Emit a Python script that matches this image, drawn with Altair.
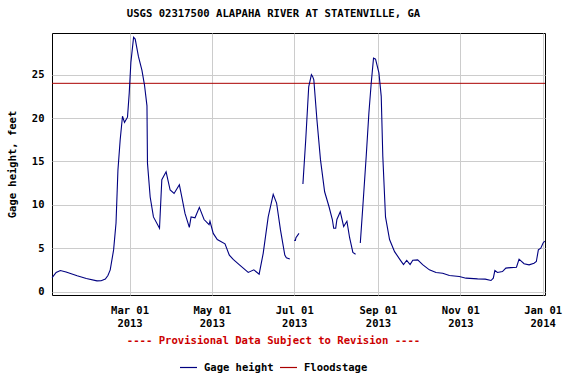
import altair as alt
import pandas as pd

FONT = "DejaVu Sans Mono"

TITLE = "USGS 02317500 ALAPAHA RIVER AT STATENVILLE, GA"
NOTE = "---- Provisional Data Subject to Revision ----"
Y_TITLE = "Gage height, feet"
SERIES = ["Gage height", "Floodstage"]
SERIES_COLORS = ["#000080", "#aa0000"]
FLOOD_STAGE_FT = [24]
Y_TICKS = [0, 5, 10, 15, 20, 25]

# --- gage height, continuous pieces (gaps between them are missing data) ---
seg1_dates = [
    "2013-01-02T16:00", "2013-01-05T16:00", "2013-01-08T18:00", "2013-01-13T00:00",
    "2013-01-21T05:00", "2013-01-28T00:00", "2013-02-04T22:00", "2013-02-08T00:00",
    "2013-02-11T02:00", "2013-02-13T00:00", "2013-02-14T17:00", "2013-02-17T05:00",
    "2013-02-19T00:00", "2013-02-20T10:00", "2013-02-22T02:00", "2013-02-23T19:00",
    "2013-02-25T07:00", "2013-02-27T12:00", "2013-02-28T19:00", "2013-03-02T00:00",
    "2013-03-04T00:00", "2013-03-05T05:00", "2013-03-07T14:00", "2013-03-10T05:00",
    "2013-03-12T02:00", "2013-03-13T22:00", "2013-03-14T07:00", "2013-03-16T07:00",
    "2013-03-18T17:00", "2013-03-23T05:00", "2013-03-24T22:00", "2013-03-28T02:00",
    "2013-03-31T02:00", "2013-04-03T00:00", "2013-04-06T22:00", "2013-04-08T17:00",
    "2013-04-11T02:00", "2013-04-14T07:00", "2013-04-15T14:00", "2013-04-18T12:00",
    "2013-04-21T17:00", "2013-04-25T05:00", "2013-04-28T22:00", "2013-04-29T14:00",
    "2013-05-02T00:00", "2013-05-05T00:00", "2013-05-10T17:00", "2013-05-13T22:00",
    "2013-05-16T19:00", "2013-05-21T05:00", "2013-05-27T22:00", "2013-06-01T02:00",
    "2013-06-05T00:00", "2013-06-08T00:00", "2013-06-11T17:00", "2013-06-15T10:00",
    "2013-06-17T22:00", "2013-06-20T19:00", "2013-06-24T00:00", "2013-06-25T04:00",
    "2013-06-27T17:00",
]
seg1_ft = [
    1.60, 2.20, 2.42, 2.25,
    1.81, 1.50, 1.23, 1.25,
    1.43, 1.85, 2.50, 4.80,
    7.90, 14.0, 17.5, 20.2,
    19.5, 20.1, 22.9, 26.4,
    29.3, 29.1, 27.1, 25.5,
    23.8, 21.4, 14.8, 10.9,
    8.6, 7.3, 12.9, 13.8,
    11.7, 11.3, 12.3, 10.9,
    9.0, 7.4, 8.6, 8.5,
    9.7, 8.3, 7.7, 8.1,
    6.7, 6.0, 5.5, 4.2,
    3.7, 3.1, 2.2, 2.5,
    2.0, 4.4, 8.6, 11.2,
    10.2, 7.1, 4.2, 3.9,
    3.75,
]

seg2_dates = ["2013-06-30T23:00", "2013-07-01T20:00", "2013-07-02T06:00", "2013-07-04T12:00"]
seg2_ft = [5.9, 5.9, 6.2, 6.7]

seg3_dates = [
    "2013-07-07T10:00", "2013-07-09T12:00", "2013-07-11T17:00", "2013-07-13T17:00",
    "2013-07-14T14:00", "2013-07-15T12:00", "2013-07-17T19:00", "2013-07-20T10:00",
    "2013-07-23T12:00", "2013-07-26T17:00", "2013-07-29T05:00", "2013-07-30T05:00",
    "2013-07-31T17:00", "2013-08-01T14:00", "2013-08-04T02:00", "2013-08-06T14:00",
    "2013-08-09T00:00", "2013-08-11T00:00", "2013-08-13T10:00", "2013-08-15T10:00",
]
seg3_ft = [
    12.4, 17.5, 23.6, 25.0,
    24.8, 24.4, 19.8, 15.2,
    11.5, 9.8, 8.3, 7.3,
    7.3, 8.3, 9.2, 7.5,
    8.1, 6.2, 4.5, 4.3,
]

seg4_dates = [
    "2013-08-18T22:00", "2013-08-20T19:00", "2013-08-23T07:00", "2013-08-25T07:00",
    "2013-08-27T00:00", "2013-08-28T17:00", "2013-08-30T05:00", "2013-09-01T17:00",
    "2013-09-03T10:00", "2013-09-04T14:00", "2013-09-06T14:00", "2013-09-09T14:00",
    "2013-09-13T07:00", "2013-09-17T10:00", "2013-09-19T22:00", "2013-09-22T07:00",
    "2013-09-24T19:00", "2013-09-26T19:00", "2013-09-30T10:00", "2013-10-04T02:00",
    "2013-10-09T02:00", "2013-10-14T00:00", "2013-10-18T22:00", "2013-10-23T22:00",
    "2013-10-31T05:00", "2013-11-05T05:00", "2013-11-13T19:00", "2013-11-19T10:00",
    "2013-11-23T17:00", "2013-11-25T10:00", "2013-11-26T14:00", "2013-11-28T12:00",
    "2013-12-02T05:00", "2013-12-04T17:00", "2013-12-08T10:00", "2013-12-12T14:00",
    "2013-12-14T12:00", "2013-12-18T05:00", "2013-12-21T22:00", "2013-12-25T14:00",
    "2013-12-27T07:00", "2013-12-28T19:00", "2013-12-30T14:00", "2014-01-01T07:00",
    "2014-01-02T12:00",
]
seg4_ft = [
    5.6, 9.8, 15.6, 20.6,
    24.0, 26.9, 26.8, 25.2,
    22.5, 15.6, 8.6, 6.0,
    4.6, 3.65, 3.1, 3.6,
    3.1, 3.6, 3.65, 3.1,
    2.5, 2.2, 2.1, 1.85,
    1.73, 1.54, 1.46, 1.43,
    1.27, 1.54, 2.42, 2.2,
    2.3, 2.7, 2.76, 2.8,
    3.73, 3.2, 3.08, 3.27,
    3.46, 4.8, 5.0, 5.6,
    5.8,
]

pieces = [(1, seg1_dates, seg1_ft), (2, seg2_dates, seg2_ft),
          (3, seg3_dates, seg3_ft), (4, seg4_dates, seg4_ft)]
rows = []
for seg_id, ds, vs in pieces:
    for d, v in zip(ds, vs):
        rows.append({"date": d, "height": v, "seg": seg_id, "series": SERIES[0]})
gage_df = pd.DataFrame(rows)
flood_df = pd.DataFrame({"height": FLOOD_STAGE_FT, "series": [SERIES[1]]})
note_df = pd.DataFrame({"note": [NOTE]})

x_domain = [alt.DateTime(year=2013, month=1, date=2, hours=14),
            alt.DateTime(year=2014, month=1, date=2, hours=17)]
x_ticks = [alt.DateTime(year=2013, month=m, date=1) for m in (3, 5, 7, 9, 11)] + \
          [alt.DateTime(year=2014, month=1, date=1)]

common_axis = dict(
    grid=True, gridColor="#cccccc", gridWidth=1, domain=False, ticks=False,
    labelFont=FONT, labelFontWeight="bold", labelFontSize=10.5, labelColor="black",
    titleFont=FONT, titleFontWeight="bold", titleFontSize=10.5, titleColor="black",
)

x_enc = alt.X(
    "date:T",
    scale=alt.Scale(domain=x_domain),
    axis=alt.Axis(
        values=x_ticks,
        labelExpr="[timeFormat(datum.value, '%b %d'), timeFormat(datum.value, '%Y')]",
        title=None,
        labelPadding=10,
        labelLineHeight=13,
        labelAlign="center",
        labelBaseline="top",
        **common_axis,
    ),
)
y_scale = alt.Scale(domain=[-0.4, 29.8], nice=False, zero=False)
y_enc = alt.Y(
    "height:Q",
    scale=y_scale,
    axis=alt.Axis(values=Y_TICKS, title=Y_TITLE, titlePadding=14, labelPadding=8,
                  **common_axis),
)
color_enc = alt.Color(
    "series:N",
    scale=alt.Scale(domain=SERIES, range=SERIES_COLORS),
    legend=alt.Legend(
        orient="none", legendX=127, legendY=325, direction="horizontal", title=None,
        symbolType="stroke", symbolSize=289, symbolStrokeWidth=1.2,
        labelFont=FONT, labelFontWeight="bold", labelFontSize=10.5, labelColor="black",
        columnPadding=3, labelOffset=6, padding=0,
    ),
)

flood = alt.Chart(flood_df).mark_rule(strokeWidth=1).encode(
    y=alt.Y("height:Q", scale=y_scale), color=color_enc
)
gage = alt.Chart(gage_df).mark_line(strokeWidth=1.1).encode(
    x=x_enc, y=y_enc, color=color_enc, detail="seg:N"
)
note = alt.Chart(note_df).mark_text(
    font=FONT, fontSize=10.6, fontWeight="bold", color="#cc0000",
    align="center", baseline="middle",
).encode(text="note:N", x=alt.value(221.5), y=alt.value(308))

chart = alt.layer(flood, gage, note).properties(
    width=493,
    height=262,
    background="white",
    autosize=alt.AutoSizeParams(type="none"),
    padding={"left": 52, "top": 33, "right": 24, "bottom": 81},
    title=alt.TitleParams(
        TITLE, font=FONT, fontSize=10.6, fontWeight="bold", color="black",
        anchor="middle", frame="group", dx=-25, offset=13,
    ),
).configure_view(
    stroke="black", strokeWidth=1
)

chart.save("out.html", embed_options={"renderer": "svg", "actions": False})
